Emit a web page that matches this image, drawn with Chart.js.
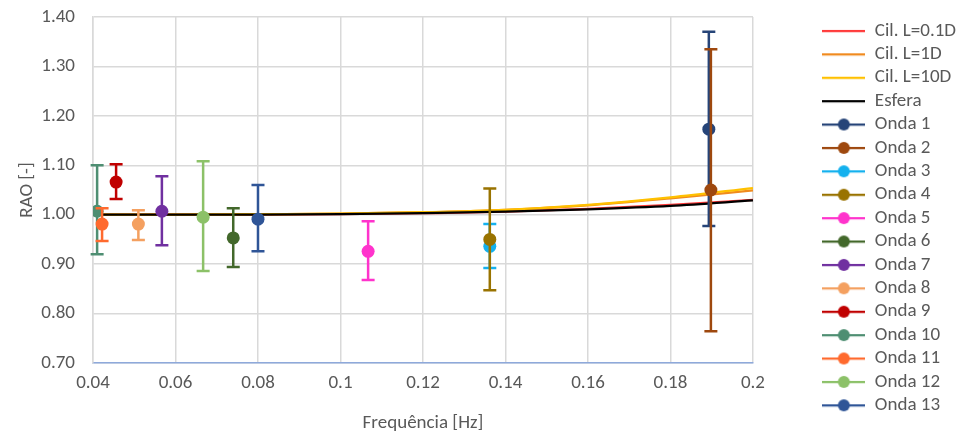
<!DOCTYPE html>
<html>
<head>
<meta charset="utf-8">
<script src="https://cdn.jsdelivr.net/npm/chart.js@4"></script>
<style>
    html, body { margin: 0; padding: 0; background: #fff; }
    .chart-container { position: relative; width: 958px; height: 432px; }
</style>
</head>
<body>
<div class="chart-container"><canvas id="raoChart"></canvas></div>
<script>
// curves (theory)
const curveFreq = [0.04, 0.06, 0.08, 0.10, 0.12, 0.14, 0.16, 0.18, 0.20];
const cil01D = [1.000, 1.000, 1.000, 1.001, 1.003, 1.006, 1.012, 1.020, 1.030];
const cil1D = [1.000, 1.000, 1.001, 1.002, 1.005, 1.010, 1.019, 1.033, 1.049];
const cil10D = [1.000, 1.000, 1.001, 1.002, 1.005, 1.010, 1.020, 1.035, 1.054];
const esfera = [1.000, 1.000, 1.000, 1.001, 1.003, 1.006, 1.011, 1.018, 1.029];

const curveNames = ['Cil. L=0.1D', 'Cil. L=1D', 'Cil. L=10D', 'Esfera'];
const curveColors = ['#FF3B3B', '#F08A1E', '#FFC000', '#000000'];

// measured waves
const ondaNames = ['Onda 1', 'Onda 2', 'Onda 3', 'Onda 4', 'Onda 5', 'Onda 6', 'Onda 7',
    'Onda 8', 'Onda 9', 'Onda 10', 'Onda 11', 'Onda 12', 'Onda 13'];
const ondaFreq = [0.1893, 0.1898, 0.1362, 0.1362, 0.1067, 0.0740, 0.0567, 0.0510, 0.0456, 0.0410, 0.0422, 0.0667, 0.0800];
const ondaRAO = [1.173, 1.050, 0.936, 0.950, 0.926, 0.953, 1.007, 0.981, 1.066, 1.007, 0.981, 0.995, 0.991];
const ondaHigh = [1.370, 1.335, 0.981, 1.053, 0.987, 1.013, 1.078, 1.009, 1.102, 1.100, 1.013, 1.108, 1.060];
const ondaLow = [0.977, 0.764, 0.892, 0.847, 0.868, 0.894, 0.938, 0.949, 1.032, 0.920, 0.947, 0.886, 0.926];
const ondaColors = ['#264478', '#9E480E', '#14B1EE', '#997300', '#FF33CC', '#43682B', '#7030A0',
    '#F4A060', '#C00000', '#4E8E72', '#FF6A2E', '#8CC168', '#2F5597'];

const xTicks = [0.04, 0.06, 0.08, 0.1, 0.12, 0.14, 0.16, 0.18, 0.2];
const yTicks = [0.70, 0.80, 0.90, 1.00, 1.10, 1.20, 1.30, 1.40];

const textColor = '#595959';
const gridColor = '#D9D9D9';
const fontFamily = 'Calibri, Carlito, "Liberation Sans", sans-serif';
const fontSize = 19;

// little legend glyphs like Excel: line, optionally with a dot
function legendGlyph(color, dot) {
    const c = document.createElement('canvas');
    c.width = 43;
    c.height = 14;
    const g = c.getContext('2d');
    g.strokeStyle = color;
    g.lineWidth = 2.25;
    g.beginPath();
    g.moveTo(0, 7);
    g.lineTo(43, 7);
    g.stroke();
    if (dot) {
        g.fillStyle = color;
        g.beginPath();
        g.arc(21.5, 7, 6, 0, Math.PI * 2);
        g.fill();
    }
    return c;
}

const datasets = [];
const curveData = [cil01D, cil1D, cil10D, esfera];
curveNames.forEach((name, i) => {
    datasets.push({
        label: name,
        data: curveFreq.map((f, j) => ({ x: f, y: curveData[i][j] })),
        showLine: true,
        borderColor: curveColors[i],
        backgroundColor: curveColors[i],
        borderWidth: 2.25,
        pointRadius: 0,
        cubicInterpolationMode: 'monotone',
        glyph: legendGlyph(curveColors[i], false),
    });
});
ondaNames.forEach((name, i) => {
    datasets.push({
        label: name,
        data: [{ x: ondaFreq[i], y: ondaRAO[i] }],
        errLow: [ondaLow[i]],
        errHigh: [ondaHigh[i]],
        showLine: false,
        borderColor: ondaColors[i],
        backgroundColor: ondaColors[i],
        pointRadius: 6.5,
        pointBorderWidth: 0,
        glyph: legendGlyph(ondaColors[i], true),
    });
});
// later series drawn on top
datasets.forEach((d, i) => { d.order = datasets.length - i; });

const errorBars = {
    id: 'errorBars',
    beforeDatasetDraw(chart, args) {
        const ds = chart.data.datasets[args.index];
        if (!ds.errLow) return;
        const { x, y } = chart.scales;
        const ctx = chart.ctx;
        ctx.save();
        ctx.strokeStyle = ds.borderColor;
        ctx.lineWidth = 2.5;
        ds.data.forEach((p, j) => {
            const px = x.getPixelForValue(p.x);
            const top = y.getPixelForValue(ds.errHigh[j]);
            const bot = y.getPixelForValue(ds.errLow[j]);
            ctx.beginPath();
            ctx.moveTo(px, top);
            ctx.lineTo(px, bot);
            ctx.moveTo(px - 6.5, top);
            ctx.lineTo(px + 6.5, top);
            ctx.moveTo(px - 6.5, bot);
            ctx.lineTo(px + 6.5, bot);
            ctx.stroke();
        });
        ctx.restore();
    },
};

new Chart(document.getElementById('raoChart'), {
    type: 'scatter',
    data: { datasets },
    plugins: [errorBars],
    options: {
        responsive: true,
        maintainAspectRatio: false,
        animation: false,
        layout: { padding: { top: 17, right: -8, left: 0, bottom: 0 } },
        plugins: {
            tooltip: { enabled: false },
            legend: {
                position: 'right',
                align: 'start',
                labels: {
                    usePointStyle: true,
                    pointStyleWidth: 43,
                    padding: 4.4,
                    color: textColor,
                    font: { family: fontFamily, size: fontSize },
                    sort: (a, b) => a.datasetIndex - b.datasetIndex,
                    generateLabels: chart => chart.data.datasets.map((d, i) => ({
                        text: d.label,
                        pointStyle: d.glyph,
                        fillStyle: d.borderColor,
                        strokeStyle: d.borderColor,
                        lineWidth: 0,
                        fontColor: textColor,
                        datasetIndex: i,
                        hidden: false,
                    })),
                },
            },
        },
        scales: {
            x: {
                type: 'linear',
                min: 0.04,
                max: 0.2,
                afterBuildTicks: s => { s.ticks = xTicks.map(v => ({ value: v })); },
                afterFit: s => { s.height = 69; },
                ticks: {
                    color: textColor,
                    font: { family: fontFamily, size: fontSize },
                    padding: 9,
                    maxRotation: 0,
                    callback: v => String(parseFloat(v.toFixed(2))),
                },
                grid: { color: gridColor, lineWidth: 1.5, drawTicks: false },
                border: { color: '#8EA9DB', width: 1.5 },
                title: {
                    display: true,
                    text: 'Frequência [Hz]',
                    color: textColor,
                    font: { family: fontFamily, size: fontSize },
                    padding: { top: 9, bottom: -3 },
                },
            },
            y: {
                type: 'linear',
                min: 0.7,
                max: 1.4,
                afterBuildTicks: s => { s.ticks = yTicks.map(v => ({ value: v })); },
                afterFit: s => {
                    s.width = 93;
                    s.paddingTop = 0;
                    s.paddingBottom = 0;
                },
                ticks: {
                    color: textColor,
                    font: { family: fontFamily, size: fontSize },
                    padding: 18,
                    callback: v => v.toFixed(2),
                },
                grid: { color: gridColor, lineWidth: 1.5, drawTicks: false },
                border: { color: gridColor, width: 1.5 },
                title: {
                    display: true,
                    text: 'RAO [-]',
                    color: textColor,
                    font: { family: fontFamily, size: fontSize },
                    padding: { top: 16, bottom: 0 },
                },
            },
            spacer: {
                type: 'linear',
                position: 'right',
                display: true,
                min: 0,
                max: 1,
                afterFit: s => {
                    s.width = 65;
                    s.paddingTop = 0;
                    s.paddingBottom = 0;
                },
                ticks: { display: false },
                grid: { display: false, drawTicks: false },
                border: { display: false },
            },
        },
    },
});
</script>
</body>
</html>
